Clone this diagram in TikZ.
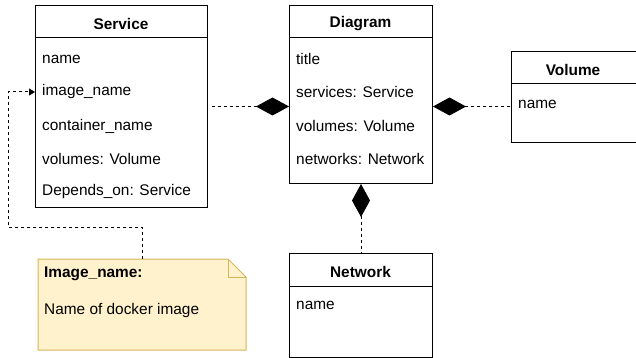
\documentclass[tikz,border=0pt]{standalone}
\usepackage{fontspec}
\setmainfont{Liberation Sans}
\usepackage{xcolor}
\usetikzlibrary{arrows.meta}
\definecolor{notefill}{HTML}{FFF2CC}
\definecolor{noteline}{HTML}{D6B656}

\begin{document}
\begin{tikzpicture}[x=1pt,y=-1pt,
  classbox/.style={draw=black,line width=1pt,fill=white,anchor=north west,inner sep=0pt},
  title/.style={font=\bfseries\fontsize{15.4}{18}\selectfont,anchor=center},
  attr/.style={font=\fontsize{15.4}{18}\selectfont,anchor=west,inner sep=0pt},
  link/.style={draw=black,line width=1pt,dash pattern=on 3pt off 3pt},
  owns/.style={{Diamond[length=33pt,width=18pt,fill=black]}-}]

\useasboundingbox (0,0) rectangle (636,358);

% Service
\node[classbox,minimum width=172pt,minimum height=202pt] (service) at (35,5) {};
\draw[line width=1pt] (35,38) -- (207,38);
\node[title] (service-t) at (121,24) {Service};
\node[attr] (service-1) at (42,59) {name};
\node[attr] (service-2) at (42,92) {image\_name};
\node[attr] (service-3) at (42,126) {container\_name};
\node[attr] (service-4) at (42,159) {volumes: Volume};
\node[attr] (service-5) at (42,192) {Depends\_on: Service};

% Diagram
\node[classbox,minimum width=143pt,minimum height=178pt] (diagram) at (289,5) {};
\draw[line width=1pt] (289,38) -- (432,38);
\node[title] (diagram-t) at (360.5,24) {Diagram};
\node[attr] (diagram-1) at (296,59) {title};
\node[attr] (diagram-2) at (296,92) {services: Service};
\node[attr] (diagram-3) at (296,126) {volumes: Volume};
\node[attr] (diagram-4) at (296,159) {networks: Network};

% Volume
\node[classbox,minimum width=125pt,minimum height=91pt] (volume) at (511,51) {};
\draw[line width=1pt] (511,84) -- (636,84);
\node[title] (volume-t) at (573,70) {Volume};
\node[attr] (volume-1) at (518,104) {name};

% Network
\node[classbox,minimum width=143pt,minimum height=104pt] (network) at (289,253) {};
\draw[line width=1pt] (289,286) -- (432,286);
\node[title] (network-t) at (360.5,272) {Network};
\node[attr] (network-1) at (296,305) {name};

% note
\filldraw[fill=notefill,draw=noteline,line width=1pt]
  (38,259) -- (228,259) -- (246,277) -- (246,350) -- (38,350) -- cycle;
\draw[noteline,line width=1pt] (228,259) -- (228,277) -- (246,277);
\node[attr,font=\bfseries\fontsize{15.4}{18}\selectfont] (note-1) at (44,274) {Image\_name:};
\node[attr] (note-2) at (44,311) {Name of docker image};
\coordinate (note-top) at (142,259);

% links
\draw[link,owns] (diagram.west |- service.east) -- ([xshift=3pt]service.east);
\draw[link,owns] (diagram.east |- service.east) -- (volume.west |- service.east);
\draw[link,owns] (diagram.south) -- (network.north);
\draw[link,-{Triangle[length=6pt,width=7pt]}] (note-top) |- (8,227) |- (service.west |- service-2);
\end{tikzpicture}
\end{document}
